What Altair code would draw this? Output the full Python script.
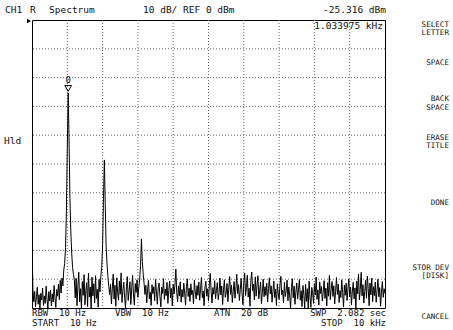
import altair as alt
import numpy as np
import pandas as pd

# Sweep settings
START_HZ = 10.0
STOP_HZ = 10000.0
N_POINTS = 401
REF_DBM = 0.0
DB_PER_DIV = 10.0
BOTTOM_DBM = REF_DBM - 10 * DB_PER_DIV
MARKER_HZ = 1033.975
MARKER_DBM = -25.316

# Trace, one level (dBm) per sweep point, in segments from left to right
dc_feedthrough = [-75.0]
floor_start = [
    -93.5, -97.8, -94.2, -99.6, -96.1, -92.8, -98.7, -95.4, -100.0, -94.9,
    -97.2, -93.1, -99.1, -95.8, -98.4, -92.4, -96.9, -100.0, -94.3, -97.6,
    -93.8, -99.3, -95.1, -97.9, -92.2, -96.4, -99.8, -93.6, -95.9, -91.7,
    -97.1, -90.4, -94.8, -89.6, -92.3,
]
fundamental = [
    -86.8, -84.5, -79.0, -66.0, -45.0, MARKER_DBM, -42.0, -62.0, -73.6, -81.0,
    -86.0, -88.4, -90.2,
]
floor_mid = [
    -96.5, -89.7, -99.2, -92.4, -87.6, -97.8, -93.3, -100.0, -90.8, -95.6,
    -88.4, -98.9, -94.1, -91.2, -99.5, -87.9, -96.2, -92.7, -100.0, -89.3,
    -95.8, -91.6, -98.3, -88.8, -96.7, -93.5, -99.7, -90.1, -94.4, -88.9,
]
second_harmonic = [-86.0, -78.0, -62.0, -48.6, -64.0, -78.7, -84.5, -89.0, -92.5, -95.4]
floor_between = [
    -91.8, -98.6, -93.4, -88.2, -96.9, -92.1, -99.4, -89.5, -94.7, -97.3,
    -90.6, -95.2, -87.8, -98.1, -93.9, -91.0, -96.6, -100.0, -92.6, -89.1,
    -97.4, -94.0, -90.9, -98.8, -93.0, -88.6, -95.5, -99.0, -91.5, -94.6,
    -90.2, -96.3, -92.9,
]
third_harmonic = [-90.0, -85.2, -76.0, -83.8, -88.2, -91.4]
floor_end = [
    -95.3, -92.1, -98.2, -93.7, -90.4, -96.8, -94.5, -99.1, -91.9, -95.0,
    -92.6, -97.5, -90.1, -94.2, -98.7, -93.0, -91.3, -96.1, -99.6, -92.8,
    -94.9, -89.8, -97.0, -93.4, -95.7, -91.1, -98.4, -94.0, -90.6, -96.5,
    -93.2, -99.3, -91.7, -95.1, -92.0, -86.5, -94.6, -97.9, -92.3, -95.8,
    -90.9, -98.0, -93.6, -96.2, -91.4, -94.8, -99.0, -92.5, -89.9, -96.0,
    -93.1, -97.7, -91.6, -95.4, -93.9, -98.6, -90.3, -94.4, -96.9, -92.2,
    -95.6, -91.0, -97.3, -93.5, -89.4, -96.4, -94.1, -99.2, -92.7, -90.7,
    -95.9, -93.3, -97.6, -91.8, -88.0, -94.3, -98.3, -92.9, -95.2, -90.5,
    -96.7, -93.8, -91.2, -97.1, -94.7, -89.6, -95.5, -92.4, -98.8, -93.7,
    -90.2, -96.3, -94.9, -91.5, -97.8, -93.0, -89.1, -95.3, -92.0, -98.1,
    -94.2, -90.8, -96.6, -93.4, -88.3, -95.0, -91.9, -97.4, -93.6, -89.7,
    -94.8, -98.9, -91.3, -87.9, -95.7, -92.8, -88.6, -96.2, -93.1, -99.4,
    -90.4, -87.5, -94.0, -91.7, -97.2, -89.2, -95.9, -92.1, -88.8, -96.8,
    -93.9, -91.0, -98.5, -94.6, -90.0, -96.1, -92.6, -95.6, -91.4, -97.9,
    -93.2, -89.5, -95.1, -92.3, -98.0, -94.3, -90.6, -96.4, -93.5, -99.1,
    -91.6, -94.9, -97.0, -92.0, -89.0, -95.4, -93.8, -98.2, -91.1, -96.0,
    -94.1, -90.3, -97.5, -92.7, -95.8, -100.0, -93.0, -89.8, -96.5, -92.4,
    -98.7, -94.5, -91.3, -96.9, -93.6, -90.1, -97.3, -94.0, -99.5, -92.2,
    -95.2, -100.0, -91.8, -97.7, -93.3, -100.0, -90.7, -96.3, -99.8, -92.9,
    -94.7, -98.4, -91.5, -95.5, -89.3, -97.0, -93.7, -99.0, -90.9, -95.0,
    -92.5, -97.6, -94.4, -90.5, -96.7, -93.1, -99.3, -91.2, -95.9, -88.7,
    -97.1, -93.5, -90.8, -96.0, -92.3, -98.6, -94.2, -89.4, -95.3, -91.7,
    -98.1, -93.9, -96.4, -90.2, -94.6, -99.7, -92.0, -95.6, -91.4, -97.4,
    -93.4, -89.9, -96.2, -92.8, -98.9, -94.1, -91.1, -96.8, -93.0, -100.0,
    -90.6, -95.1, -88.2, -97.2, -93.6, -87.6, -95.8, -91.9, -98.3, -94.3,
    -90.4, -96.6, -88.9, -93.2, -99.2, -91.3, -95.4, -89.6, -97.8, -92.6,
    -95.7, -91.0, -98.0, -93.8, -90.0, -96.1, -92.9, -99.4, -94.5, -90.8,
    -96.3, -93.3, -95.0,
]

trace_dbm = (dc_feedthrough + floor_start + fundamental + floor_mid
             + second_harmonic + floor_between + third_harmonic + floor_end)

# sweep points are evenly spaced between START and STOP
freq_hz = np.linspace(START_HZ, STOP_HZ, N_POINTS)
trace = pd.DataFrame({"freq": freq_hz, "level": trace_dbm})
marker = pd.DataFrame({"freq": [MARKER_HZ], "level": [MARKER_DBM], "id": ["0"]})

# 10 x 10 graticule
span = STOP_HZ - START_HZ
grid_x = [START_HZ + span * k / 10 for k in range(1, 10)]
grid_y = [REF_DBM - DB_PER_DIV * k for k in range(1, 10)]

W, H = 353, 288
FONT = "DejaVu Sans Mono"
INK = "#111111"
GRID = "#666666"
NB = "\u00a0"  # keeps the fixed-pitch double spacing of the annotations

x_scale = alt.Scale(domain=[START_HZ, STOP_HZ], nice=False, zero=False)
y_scale = alt.Scale(domain=[BOTTOM_DBM, REF_DBM], nice=False, zero=False)

vgrid = alt.Chart(pd.DataFrame({"freq": grid_x})).mark_rule(
    color=GRID, strokeWidth=1, strokeDash=[1, 2],
).encode(x=alt.X("freq:Q", scale=x_scale, axis=None))

hgrid = alt.Chart(pd.DataFrame({"level": grid_y})).mark_rule(
    color=GRID, strokeWidth=1, strokeDash=[1, 2],
).encode(y=alt.Y("level:Q", scale=y_scale, axis=None))

line = alt.Chart(trace).mark_line(
    color="black", strokeWidth=1, clip=True, interpolate="linear",
).encode(
    x=alt.X("freq:Q", scale=x_scale, axis=None),
    y=alt.Y("level:Q", scale=y_scale, axis=None),
)

marker_tri = alt.Chart(marker).mark_point(
    shape="triangle-down", size=45, filled=False, color="black",
    strokeWidth=1, yOffset=-4.5, opacity=1,
).encode(x=alt.X("freq:Q", scale=x_scale), y=alt.Y("level:Q", scale=y_scale))

marker_id = alt.Chart(marker).mark_text(
    font=FONT, fontSize=9, color=INK, dy=-13, baseline="middle",
).encode(x=alt.X("freq:Q", scale=x_scale), y=alt.Y("level:Q", scale=y_scale),
         text="id:N")


def label(text, x, y, align="left", size=9.5):
    """Fixed screen text, x/y in pixels relative to the plot area."""
    return alt.Chart(pd.DataFrame({"t": [text.replace("  ", NB + NB)]})).mark_text(
        font=FONT, fontSize=size, color=INK, align=align, baseline="middle",
    ).encode(x=alt.value(x), y=alt.value(y), text="t:N")


# header
header = [
    label("CH1", -27, -10),
    label("R", -2, -10),
    label("Spectrum", 17, -10),
    label("10 dB/ REF 0 dBm", 111, -10),
    label("-25.316 dBm", 354, -10, align="right"),
    label("1.033975 kHz", 351, 6, align="right"),
]
# footer: two rows under the graticule
FOOT = 9
ROW1, ROW2 = 292.5, 303
footer = [
    label("RBW  10 Hz", 0, ROW1, size=FOOT),
    label("START  10 Hz", 0, ROW2, size=FOOT),
    label("VBW  10 Hz", 83, ROW1, size=FOOT),
    label("ATN  20 dB", 182, ROW1, size=FOOT),
    label("SWP  2.082 sec", 354, ROW1, align="right", size=FOOT),
    label("STOP  10 kHz", 354, ROW2, align="right", size=FOOT),
]
side = [label("Hld", -28, 121)]

# softkey captions, right-aligned in the menu column
SK_X, SK = 417, 7.6
softkeys = [
    label("SELECT", SK_X, 4.5, "right", SK),
    label("LETTER", SK_X, 13.4, "right", SK),
    label("SPACE", SK_X, 43, "right", SK),
    label("BACK", SK_X, 79, "right", SK),
    label("SPACE", SK_X, 87.9, "right", SK),
    label("ERASE", SK_X, 117.5, "right", SK),
    label("TITLE", SK_X, 126.4, "right", SK),
    label("DONE", SK_X, 183, "right", SK),
    label("STOR DEV", SK_X, 247.5, "right", SK),
    label("[DISK]", SK_X, 256.4, "right", SK),
    label("CANCEL", SK_X, 297, "right", SK),
]

# reference level arrow at the top-left corner
ref_arrow = alt.Chart(pd.DataFrame({"v": [REF_DBM]})).mark_point(
    shape="triangle-right", size=22, filled=True, color="black", opacity=1,
).encode(x=alt.value(-3), y=alt.value(1))

chart = alt.layer(
    vgrid, hgrid, line, marker_tri, marker_id, ref_arrow,
    *header, *footer, *side, *softkeys
).properties(
    width=W, height=H,
    padding={"left": 32, "top": 20, "right": 68, "bottom": 22},
    autosize="none",
    background="white",
).configure_view(
    stroke="black", strokeWidth=1,
)

chart.save("out.html", embed_options={"renderer": "svg", "actions": False})
